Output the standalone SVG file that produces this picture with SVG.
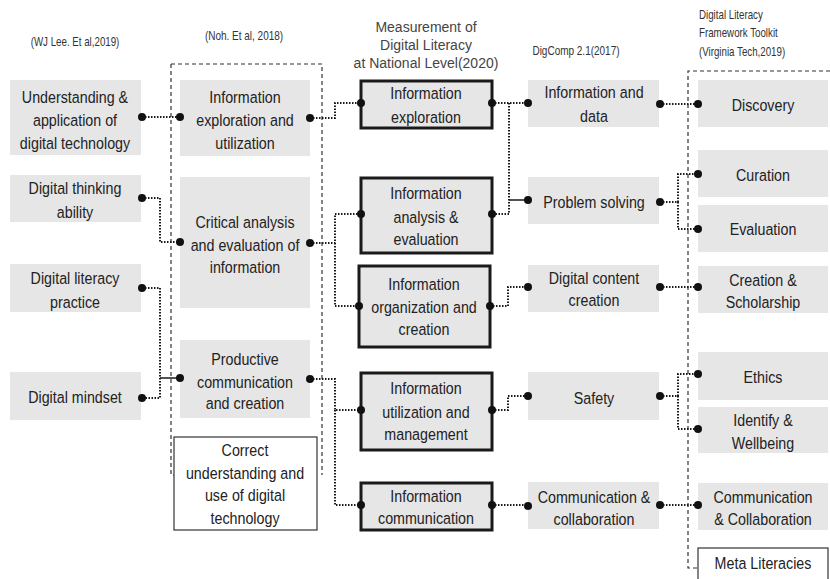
<svg xmlns="http://www.w3.org/2000/svg" width="830" height="579" viewBox="0 0 830 579">
<style>
.bg{fill:#ffffff}
.g{fill:#e6e6e6;stroke:none}
.k{fill:#e6e6e6;stroke:#1a1a1a;stroke-width:3}
.w{fill:#ffffff;stroke:#333333;stroke-width:1.2}
.dash{fill:none;stroke:#333333;stroke-width:1.2;stroke-dasharray:4 3}
.t{font-family:"Liberation Sans",Arial,sans-serif;font-size:17px;fill:#222222;text-anchor:middle}
.h{font-family:"Liberation Sans",Arial,sans-serif;font-size:12.5px;fill:#333333;text-anchor:middle}
.hl{font-family:"Liberation Sans",Arial,sans-serif;font-size:12.5px;fill:#333333}
.m{font-family:"Liberation Sans",Arial,sans-serif;font-size:14px;fill:#444444;text-anchor:middle}
.c{fill:none;stroke:#1a1a1a;stroke-width:2;stroke-dasharray:1.5 1.5}
.s{fill:none;stroke:#1a1a1a;stroke-width:1.5}
.d{fill:#111111}
</style>
<rect class="bg" x="0" y="0" width="830" height="579"/>

<g id="headers">
<g transform="translate(75 0) scale(0.78 1)"><text class="h" x="0" y="46">(WJ Lee. Et al,2019)</text></g>
<g transform="translate(244 0) scale(0.8 1)"><text class="h" x="0" y="40">(Noh. Et al, 2018)</text></g>
<text class="m" x="426" y="32">Measurement of</text>
<text class="m" x="426" y="50">Digital Literacy</text>
<text class="m" x="426" y="68">at National Level(2020)</text>
<g transform="translate(576 0) scale(0.8 1)"><text class="h" x="0" y="55">DigComp 2.1(2017)</text></g>
<g transform="translate(699 0) scale(0.78 1)">
<text class="hl" x="0" y="19">Digital Literacy</text>
<text class="hl" x="0" y="37">Framework Toolkit</text>
<text class="hl" x="0" y="56">(Virginia Tech,2019)</text></g>
</g>

<g id="frames">
<path class="dash" d="M171,64 H322 V475"/>
<path class="dash" d="M171,64 V475 H174"/>
<path class="dash" d="M830,71 H688 V568 H698"/>
</g>

<!-- Column 1 -->
<g id="c1-understanding"><rect class="g" x="10" y="80" width="131" height="75"/>
<g transform="translate(75 0) scale(0.84 1)"><text class="t" x="0" y="103">Understanding &amp;</text><text class="t" x="0" y="126">application of</text><text class="t" x="0" y="149">digital technology</text></g></g>
<g id="c1-thinking"><rect class="g" x="10" y="175" width="131" height="47"/>
<g transform="translate(75 0) scale(0.84 1)"><text class="t" x="0" y="194">Digital thinking</text><text class="t" x="0" y="218">ability</text></g></g>
<g id="c1-practice"><rect class="g" x="10" y="264" width="131" height="48"/>
<g transform="translate(75 0) scale(0.84 1)"><text class="t" x="0" y="284">Digital literacy</text><text class="t" x="0" y="308">practice</text></g></g>
<g id="c1-mindset"><rect class="g" x="10" y="372" width="131" height="48"/>
<g transform="translate(75 0) scale(0.84 1)"><text class="t" x="0" y="403">Digital mindset</text></g></g>

<!-- Column 2 -->
<g id="c2-exploration"><rect class="g" x="180" y="80" width="130" height="76"/>
<g transform="translate(245 0) scale(0.84 1)"><text class="t" x="0" y="103">Information</text><text class="t" x="0" y="126">exploration and</text><text class="t" x="0" y="149">utilization</text></g></g>
<g id="c2-critical"><rect class="g" x="180" y="177" width="130" height="131"/>
<g transform="translate(245 0) scale(0.84 1)"><text class="t" x="0" y="228">Critical analysis</text><text class="t" x="0" y="251">and evaluation of</text><text class="t" x="0" y="273">information</text></g></g>
<g id="c2-productive"><rect class="g" x="180" y="340" width="130" height="78"/>
<g transform="translate(245 0) scale(0.84 1)"><text class="t" x="0" y="365">Productive</text><text class="t" x="0" y="388">communication</text><text class="t" x="0" y="409">and creation</text></g></g>
<g id="c2-correct"><rect class="w" x="174" y="437" width="143" height="93"/>
<g transform="translate(245 0) scale(0.84 1)"><text class="t" x="0" y="456">Correct</text><text class="t" x="0" y="479">understanding and</text><text class="t" x="0" y="501">use of digital</text><text class="t" x="0" y="524">technology</text></g></g>

<!-- Column 3 -->
<g id="c3-exploration"><rect class="k" x="361" y="81" width="131" height="47"/>
<g transform="translate(426 0) scale(0.84 1)"><text class="t" x="0" y="99">Information</text><text class="t" x="0" y="123">exploration</text></g></g>
<g id="c3-analysis"><rect class="k" x="361" y="178" width="131" height="75"/>
<g transform="translate(426 0) scale(0.84 1)"><text class="t" x="0" y="199">Information</text><text class="t" x="0" y="223">analysis &amp;</text><text class="t" x="0" y="245">evaluation</text></g></g>
<g id="c3-organization"><rect class="k" x="359" y="266" width="131" height="81"/>
<g transform="translate(424 0) scale(0.84 1)"><text class="t" x="0" y="290">Information</text><text class="t" x="0" y="313">organization and</text><text class="t" x="0" y="335">creation</text></g></g>
<g id="c3-utilization"><rect class="k" x="361" y="373" width="131" height="77"/>
<g transform="translate(426 0) scale(0.84 1)"><text class="t" x="0" y="394">Information</text><text class="t" x="0" y="418">utilization and</text><text class="t" x="0" y="440">management</text></g></g>
<g id="c3-communication"><rect class="k" x="361" y="483" width="131" height="47"/>
<g transform="translate(426 0) scale(0.84 1)"><text class="t" x="0" y="502">Information</text><text class="t" x="0" y="524">communication</text></g></g>

<!-- Column 4 -->
<g id="c4-data"><rect class="g" x="528" y="80" width="131" height="47"/>
<g transform="translate(594 0) scale(0.84 1)"><text class="t" x="0" y="98">Information and</text><text class="t" x="0" y="122">data</text></g></g>
<g id="c4-problem"><rect class="g" x="528" y="177" width="131" height="47"/>
<g transform="translate(594 0) scale(0.84 1)"><text class="t" x="0" y="208">Problem solving</text></g></g>
<g id="c4-content"><rect class="g" x="528" y="265" width="131" height="47"/>
<g transform="translate(594 0) scale(0.84 1)"><text class="t" x="0" y="284">Digital content</text><text class="t" x="0" y="306">creation</text></g></g>
<g id="c4-safety"><rect class="g" x="528" y="372" width="131" height="48"/>
<g transform="translate(594 0) scale(0.84 1)"><text class="t" x="0" y="404">Safety</text></g></g>
<g id="c4-communication"><rect class="g" x="528" y="482" width="131" height="47"/>
<g transform="translate(594 0) scale(0.84 1)"><text class="t" x="0" y="503">Communication &amp;</text><text class="t" x="0" y="525">collaboration</text></g></g>

<!-- Column 5 -->
<g id="c5-discovery"><rect class="g" x="698" y="80" width="130" height="47"/>
<g transform="translate(763 0) scale(0.84 1)"><text class="t" x="0" y="111">Discovery</text></g></g>
<g id="c5-curation"><rect class="g" x="698" y="150" width="130" height="47"/>
<g transform="translate(763 0) scale(0.84 1)"><text class="t" x="0" y="181">Curation</text></g></g>
<g id="c5-evaluation"><rect class="g" x="698" y="205" width="130" height="47"/>
<g transform="translate(763 0) scale(0.84 1)"><text class="t" x="0" y="235">Evaluation</text></g></g>
<g id="c5-creation"><rect class="g" x="698" y="266" width="130" height="47"/>
<g transform="translate(763 0) scale(0.84 1)"><text class="t" x="0" y="286">Creation &amp;</text><text class="t" x="0" y="308">Scholarship</text></g></g>
<g id="c5-ethics"><rect class="g" x="698" y="352" width="130" height="48"/>
<g transform="translate(763 0) scale(0.84 1)"><text class="t" x="0" y="383">Ethics</text></g></g>
<g id="c5-identify"><rect class="g" x="698" y="407" width="130" height="46"/>
<g transform="translate(763 0) scale(0.84 1)"><text class="t" x="0" y="426">Identify &amp;</text><text class="t" x="0" y="449">Wellbeing</text></g></g>
<g id="c5-communication"><rect class="g" x="698" y="483" width="130" height="47"/>
<g transform="translate(763 0) scale(0.84 1)"><text class="t" x="0" y="503">Communication</text><text class="t" x="0" y="525">&amp; Collaboration</text></g></g>
<g id="c5-meta"><rect class="w" x="698" y="548" width="130" height="32"/>
<g transform="translate(763 0) scale(0.84 1)"><text class="t" x="0" y="569">Meta Literacies</text></g></g>

<g id="connectors">
<path class="c" d="M142,117 H180"/>
<path class="c" d="M142,198 H160 V242 H180"/>
<path class="c" d="M142,288 H160 V398 H142"/>
<path class="s" d="M160,378 H180"/>
<path class="c" d="M310,118 H335 V103 H361"/>
<path class="c" d="M310,243 H335 V214 H361 M335,243 V306 H359"/>
<path class="c" d="M310,379 H335 V410 H361 M335,410 V505 H361"/>
<path class="c" d="M492,103 H528 M509,103 V214 H492"/>
<path class="s" d="M509,200 H528"/>
<path class="c" d="M490,306 H508 V287 H528"/>
<path class="c" d="M492,410 H508 V396 H528"/>
<path class="c" d="M492,505 H528"/>
<path class="c" d="M660,104 H698"/>
<path class="c" d="M660,202 H678 V174 H698 M678,202 V229 H698"/>
<path class="c" d="M660,287 H698"/>
<path class="c" d="M660,396 H678 V374 H698 M678,396 V429 H698"/>
<path class="c" d="M660,505 H698"/>
<g class="d">
<circle cx="142" cy="117" r="4"/><circle cx="180" cy="117" r="4"/>
<circle cx="142" cy="198" r="4"/><circle cx="180" cy="242" r="4"/>
<circle cx="142" cy="288" r="4"/><circle cx="142" cy="398" r="4"/><circle cx="180" cy="378" r="4"/>
<circle cx="310" cy="118" r="4"/><circle cx="361" cy="103" r="4"/>
<circle cx="310" cy="243" r="4"/><circle cx="361" cy="214" r="4"/><circle cx="359" cy="306" r="4"/>
<circle cx="310" cy="379" r="4"/><circle cx="361" cy="410" r="4"/><circle cx="361" cy="505" r="4"/>
<circle cx="492" cy="103" r="4"/><circle cx="528" cy="103" r="4"/>
<circle cx="492" cy="214" r="4"/><circle cx="528" cy="200" r="4"/>
<circle cx="490" cy="306" r="4"/><circle cx="528" cy="287" r="4"/>
<circle cx="492" cy="410" r="4"/><circle cx="528" cy="396" r="4"/>
<circle cx="492" cy="505" r="4"/><circle cx="528" cy="506" r="4"/>
<circle cx="660" cy="104" r="4"/><circle cx="698" cy="104" r="4"/>
<circle cx="660" cy="202" r="4"/><circle cx="698" cy="174" r="4"/><circle cx="698" cy="229" r="4"/>
<circle cx="660" cy="287" r="4"/><circle cx="698" cy="287" r="4"/>
<circle cx="660" cy="396" r="4"/><circle cx="698" cy="374" r="4"/><circle cx="698" cy="429" r="4"/>
<circle cx="660" cy="505" r="4"/><circle cx="698" cy="505" r="4"/>
</g>
</g>
</svg>
